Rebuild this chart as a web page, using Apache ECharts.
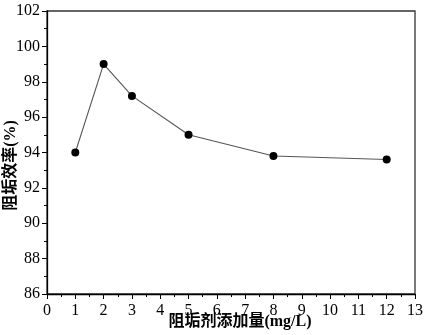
<!DOCTYPE html>
<html><head><meta charset="utf-8">
<script src="https://cdn.jsdelivr.net/npm/echarts@6/dist/echarts.min.js"></script>
<style>html,body{margin:0;padding:0;background:#fff}#c{width:425px;height:335px}</style>
</head><body><div id="c"></div>
<script>
const dosage = [1, 2, 3, 5, 8, 12];
const efficiency = [94, 99, 97.2, 95, 93.8, 93.6];
const xTitle = '阻垢剂添加量(mg/L)';
const yTitle = '阻垢效率(%)';
const font = '"Liberation Serif", "Noto Sans CJK SC", serif';
const chart = echarts.init(document.getElementById('c'));
chart.setOption({
  animation: false,
  backgroundColor: '#fff',
  grid: { left: 47, right: 10, top: 11, bottom: 41, containLabel: false, outerBoundsMode: 'none',
          show: true, borderColor: '#333', borderWidth: 1.3, backgroundColor: 'transparent' },
  xAxis: {
    type: 'value', min: 0, max: 13, interval: 1,
    name: xTitle, nameLocation: 'middle', nameGap: 20, nameMoveOverlap: false,
    nameTextStyle: { fontFamily: font, fontSize: 16, fontWeight: 'bold', color: '#000', padding: [0, 0, 0, 18] },
    axisLine: { show: true, lineStyle: { color: '#000', width: 1.3 } },
    axisTick: { show: true, inside: false, length: 5, lineStyle: { color: '#000' } },
    minorTick: { show: true, splitNumber: 2, length: 3, lineStyle: { color: '#000' } },
    axisLabel: { fontFamily: font, fontSize: 16, color: '#000', margin: 9 },
    splitLine: { show: false }
  },
  yAxis: {
    type: 'value', min: 86, max: 102, interval: 2,
    name: yTitle, nameLocation: 'middle', nameGap: 28, nameRotate: 90, nameMoveOverlap: false,
    nameTextStyle: { fontFamily: font, fontSize: 16, fontWeight: 'bold', color: '#000', padding: [0, 26, 0, 0] },
    axisLine: { show: true, lineStyle: { color: '#000', width: 1.3 } },
    axisTick: { show: true, inside: false, length: 5, lineStyle: { color: '#000' } },
    minorTick: { show: true, splitNumber: 2, length: 3, lineStyle: { color: '#000' } },
    axisLabel: { fontFamily: font, fontSize: 16, color: '#000', margin: 7 },
    splitLine: { show: false }
  },
  series: [{
    type: 'line',
    data: dosage.map((d, i) => [d, efficiency[i]]),
    symbol: 'circle', symbolSize: 8,
    itemStyle: { color: '#000' },
    lineStyle: { color: '#555', width: 1.1 }
  }]
});
</script></body></html>
